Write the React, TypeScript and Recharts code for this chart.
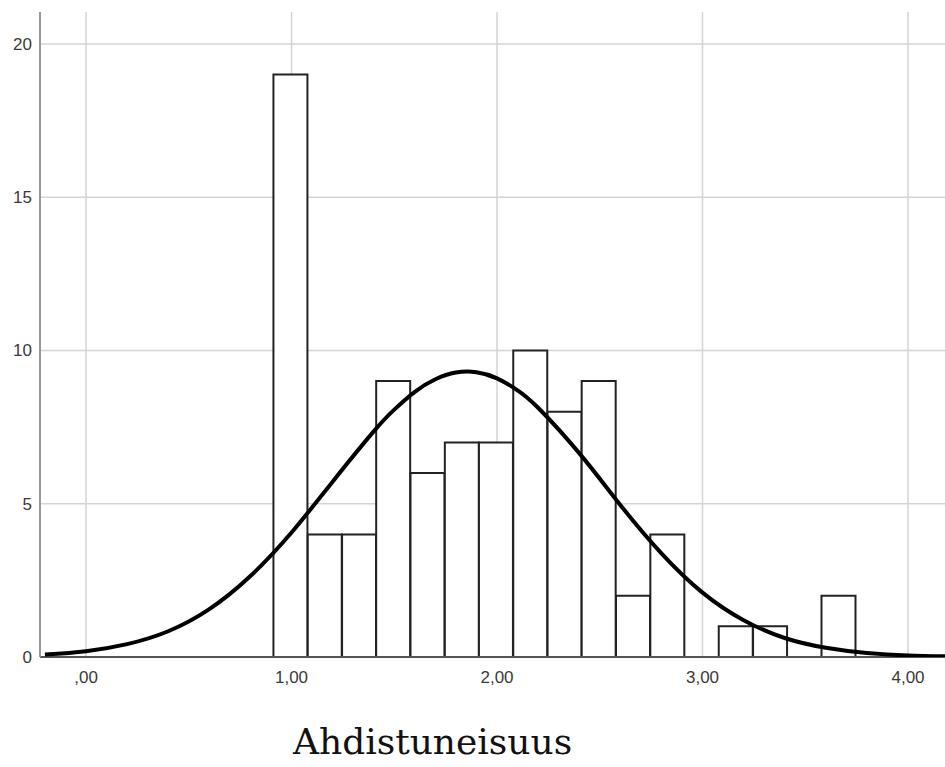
import { Bar, CartesianGrid, ComposedChart, Line, LineChart, XAxis, YAxis } from "recharts";

// histogram bins (centre of each 1/6-wide bin) and counts
const binCenters = [0.995, 1.162, 1.329, 1.495, 1.662, 1.829, 1.995, 2.162, 2.329, 2.495, 2.662, 2.829, 2.995, 3.162, 3.329, 3.495, 3.662];
const counts = [19, 4, 4, 9, 6, 7, 7, 10, 8, 9, 2, 4, 0, 1, 1, 0, 2];

// normal curve
const curveX = [-0.2, 0, 0.2, 0.4, 0.6, 0.8, 1.0, 1.2, 1.4, 1.5, 1.6, 1.7, 1.8, 1.9, 2.0, 2.1, 2.2, 2.4, 2.6, 2.8, 3.0, 3.2, 3.4, 3.6, 3.8, 4.0, 4.2];
const curveY = [0.08, 0.19, 0.42, 0.84, 1.56, 2.64, 4.06, 5.72, 7.36, 8.07, 8.65, 9.06, 9.28, 9.29, 9.09, 8.7, 8.13, 6.65, 4.96, 3.38, 2.1, 1.2, 0.62, 0.3, 0.13, 0.05, 0.02];

const xTicks = [0, 1, 2, 3, 4];
const yTicks = [0, 5, 10, 15, 20];

const barData = binCenters.map((x, i) => ({ x, count: counts[i] }));
const curveData = curveX.map((x, i) => ({ x, y: curveY[i] }));

const W = 945;
const H = 697;
const xDomain = [-0.224, 4.18];
const yDomain = [0, 21.04];
const tickStyle = { fill: "#3a3a3a", fontSize: 17, fontFamily: "Liberation Sans, Arial, sans-serif" };
const fmt = (v: number) => (v === 0 ? ",00" : `${v},00`);

export default function App() {
  return (
    <div style={{ position: "absolute", left: 0, top: 0, width: W, height: 767, background: "#fff" }}>
      <ComposedChart
        width={W}
        height={H}
        data={barData}
        margin={{ top: 12, right: 0, left: 0, bottom: 0 }}
        barCategoryGap={0}
        barGap={0}
      >
        <CartesianGrid stroke="#d4d4d4" strokeWidth={1.5} syncWithTicks />
        <XAxis
          dataKey="x"
          type="number"
          domain={xDomain}
          allowDataOverflow
          ticks={xTicks}
          tickFormatter={fmt}
          height={40}
          tickLine={false}
          tickMargin={8}
          axisLine={{ stroke: "#555", strokeWidth: 2 }}
          tick={tickStyle}
        />
        <YAxis
          type="number"
          domain={yDomain}
          allowDataOverflow
          ticks={yTicks}
          width={40}
          tickLine={false}
          axisLine={{ stroke: "#999", strokeWidth: 2 }}
          tick={tickStyle}
        />
        <Bar dataKey="count" fill="#fff" stroke="#222" strokeWidth={2} isAnimationActive={false} />
      </ComposedChart>
      <div style={{ position: "absolute", left: 0, top: 0, pointerEvents: "none" }}>
        <LineChart width={W} height={H} data={curveData} margin={{ top: 12, right: 0, left: 40, bottom: 40 }}>
          <XAxis dataKey="x" type="number" domain={xDomain} allowDataOverflow hide />
          <YAxis type="number" domain={yDomain} allowDataOverflow hide />
          <Line dataKey="y" type="natural" stroke="#000" strokeWidth={4} dot={false} isAnimationActive={false} />
        </LineChart>
      </div>
      <div
        style={{
          position: "absolute",
          left: 293,
          top: 724,
          fontFamily: "DejaVu Serif, serif",
          fontSize: 36,
          lineHeight: "36px",
          color: "#111",
          whiteSpace: "nowrap",
        }}
      >
        Ahdistuneisuus
      </div>
    </div>
  );
}
